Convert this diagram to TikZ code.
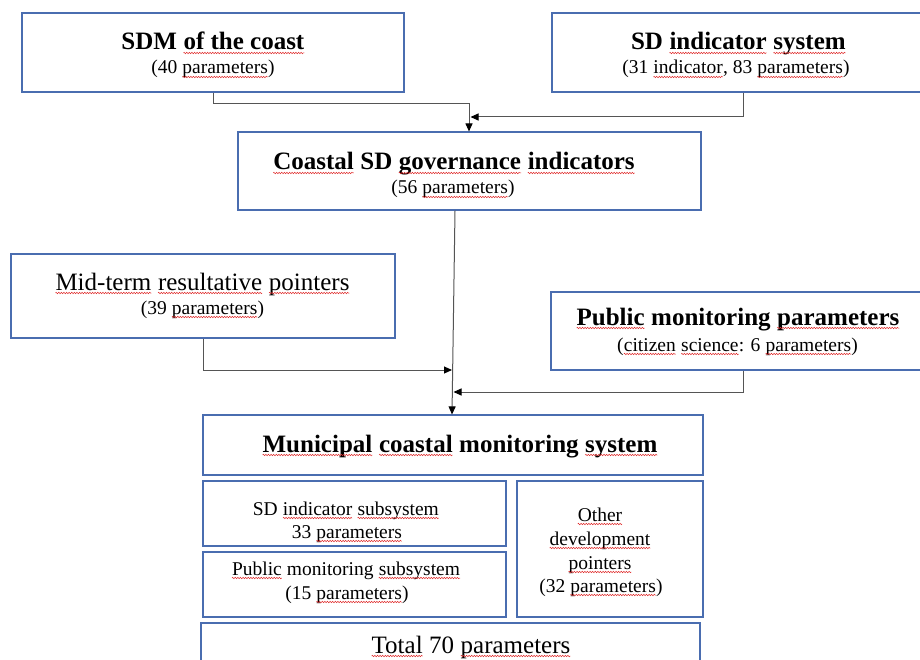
\documentclass[tikz,border=0pt]{standalone}
\usepackage{fontspec}
\setmainfont{Liberation Serif}
\usetikzlibrary{arrows.meta,calc,fit,decorations.pathmorphing}

\definecolor{boxblue}{HTML}{4A6DB0}
\definecolor{linegray}{HTML}{555555}
\definecolor{squig}{HTML}{E02828}

% red wavy underline for flagged words
\newcommand\sq[1]{\tikz[baseline=0pt, x=1pt, y=1pt]{%
  \node[anchor=base west, inner sep=0pt, outer sep=0pt, draw=none, fill=none] (sqw) at (0,0) {#1};
  \draw[squig, line width=0.5pt, decorate,
        decoration={zigzag, amplitude=0.7pt, segment length=2.6pt}]
        (0,-3) -- ([yshift=-3pt]sqw.base east);}}

\tikzset{
  box/.style={draw=boxblue, line width=1.1pt, inner sep=0pt, rectangle},
  bigb/.style={font=\fontsize{25}{30}\selectfont\bfseries, anchor=base, inner sep=0pt},
  bigr/.style={font=\fontsize{25}{30}\selectfont, anchor=base, inner sep=0pt},
  small/.style={font=\fontsize{19.5}{23}\selectfont, anchor=base, inner sep=0pt},
  conn/.style={draw=linegray, line width=1pt, -{Triangle[length=8pt,width=7pt,color=black]}},
}

\begin{document}
\begin{tikzpicture}[x=1pt, y=-1pt]
\path[use as bounding box] (0,0) rectangle (920,660);
\fill[white] (0,0) rectangle (920,660);
\clip (0,0) rectangle (920,660);

% boxes
\node[box, fit={(22,13) (404,92)}] (sdm) {};
\node[box, fit={(552,13) (934,92)}] (sdi) {};
\node[box, fit={(238,132) (701,210)}] (coastal) {};
\node[box, fit={(11,254) (395,338)}] (mid) {};
\node[box, fit={(551,292) (935,370)}] (pub) {};
\node[box, fit={(203,415) (703,475)}] (muni) {};
\node[box, fit={(203,481) (506,546)}] (sdsub) {};
\node[box, fit={(203,552) (506,617)}] (pubsub) {};
\node[box, fit={(517,481) (703,617)}] (other) {};
\node[box, fit={(201,623) (700,700)}] (total) {};

% texts
\node[bigb] (sdm-t) at (213,50) {SDM \sq{of the coast}};
\node[small] (sdm-s) at (213,74) {(40 \sq{parameters})};

\node[bigb] (sdi-t) at (738.5,50) {SD \sq{indicator} \sq{system}};
\node[small] (sdi-s) at (736,74) {(31 \sq{indicator}, 83 \sq{parameters})};

\node[bigb] (coastal-t) at (454,170) {\sq{Coastal} SD \sq{governance} \sq{indicators}};
\node[small] (coastal-s) at (453,194) {(56 \sq{parameters})};

\node[bigr] (mid-t) at (202.5,290) {\sq{Mid-term} \sq{resultative} \sq{pointers}};
\node[small] (mid-s) at (202.5,314) {(39 \sq{parameters})};

\node[bigb] (pub-t) at (738,325) {\sq{Public} monitoring \sq{parameters}};
\node[small] (pub-s) at (737.5,351) {(\sq{citizen} \sq{science}: 6 \sq{parameters})};

\node[bigb] (muni-t) at (460,452) {\sq{Municipal} \sq{coastal} monitoring \sq{system}};

\node[small] (sdsub-a) at (346,515) {SD \sq{indicator} \sq{subsystem}};
\node[small] (sdsub-b) at (347,538) {33 \sq{parameters}};

\node[small] (pubsub-a) at (346,575) {\sq{Public} monitoring \sq{subsystem}};
\node[small] (pubsub-b) at (347,599) {(15 \sq{parameters})};

\node[small] (other-a) at (600,521) {\sq{Other}};
\node[small] (other-b) at (600,545) {\sq{development}};
\node[small] (other-c) at (600,569) {\sq{pointers}};
\node[small] (other-d) at (601,592) {(32 \sq{parameters})};

\node[bigr] (total-t) at (471,653) {\sq{Total} 70 \sq{parameters}};

% junction points of the connectors
\coordinate (j1) at (469,104);
\coordinate (j2) at (470.5,117);
\coordinate (c1) at ($(coastal.south)+(-14.5,0)$);
\coordinate (m1) at ($(muni.north)+(-1,0)$);
\coordinate (j3) at (452,370);
\coordinate (j4) at (453.5,392);

% connectors
\draw[conn] (sdm.south) |- (j1) -- (j1 |- coastal.north);
\draw[conn] (sdi.south) |- (j2);
\draw[conn] (c1) -- (m1);
\draw[conn] (mid.south) |- (j3);
\draw[conn] (pub.south) |- (j4);
\end{tikzpicture}
\end{document}
